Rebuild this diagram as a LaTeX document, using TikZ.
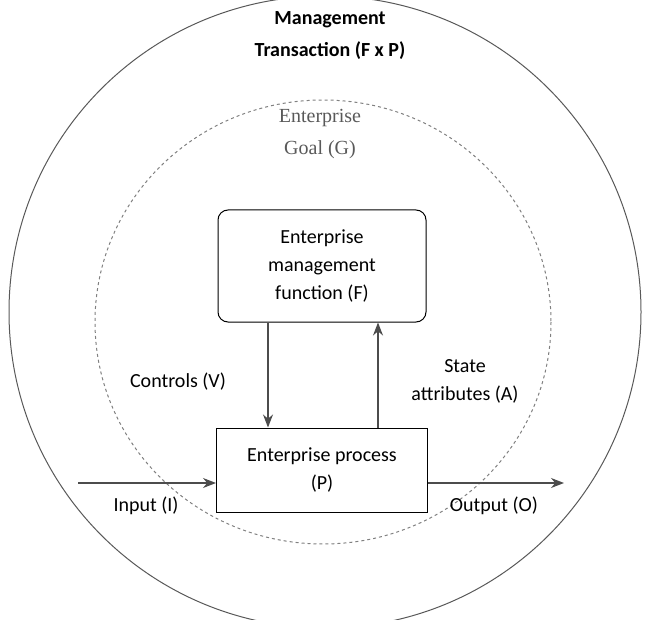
\documentclass[tikz,border=0pt]{standalone}
\usepackage{fontspec}
\setmainfont{Carlito}
\newfontfamily\goalfont{Liberation Serif}
\usetikzlibrary{positioning, arrows.meta}

\begin{document}
\begin{tikzpicture}[
						x=1pt, y=-1pt,
						every node/.style = {font=\fontsize{20}{28}\selectfont},
						block/.style = {draw, align=center, line width=1pt},
						label/.style = {align=center},
						flow/.style = {-{Stealth[length=13pt, width=10pt]}, line width=1.2pt, gray!60!black},
					]

\useasboundingbox (0,0) rectangle (653,620);
\draw[line width=1pt, gray!70!black] (325,312) circle (316);
\draw[dashed, line width=1pt, gray] (323,322) ellipse (228 and 222);

\node[label, font=\bfseries\fontsize{20}{32}\selectfont] (trans) at (330,36) {Management\\Transaction (F x P)};
\node[label, gray!70!black, font=\goalfont\fontsize{20}{32}\selectfont] (goal) at (320,134) {Enterprise\\Goal (G)};

\node[block, rounded corners=10pt, minimum width=208pt, minimum height=112pt] (func) at (322,266) {Enterprise\\management\\function (F)};
\node[block, minimum width=211pt, minimum height=84pt] (proc) at (322,470) {Enterprise process\\(P)};

\coordinate (in) at (78,483);
\coordinate (out) at (564,483);

\draw[flow] ([xshift=-54pt]func.south) -- ([xshift=-54pt]proc.north);
\draw[flow] ([xshift=56pt]proc.north) -- ([xshift=56pt]func.south);
\draw[flow] (in) -- (in -| proc.west);
\draw[flow] (out -| proc.east) -- (out);

\node[label] (ctrl) at (178,382) {Controls (V)};
\node[label] (state) at (465,381) {State\\attributes (A)};
\node[label] (input) at (146,506) {Input (I)};
\node[label] (output) at (494,506) {Output (O)};

\end{tikzpicture}
\end{document}
